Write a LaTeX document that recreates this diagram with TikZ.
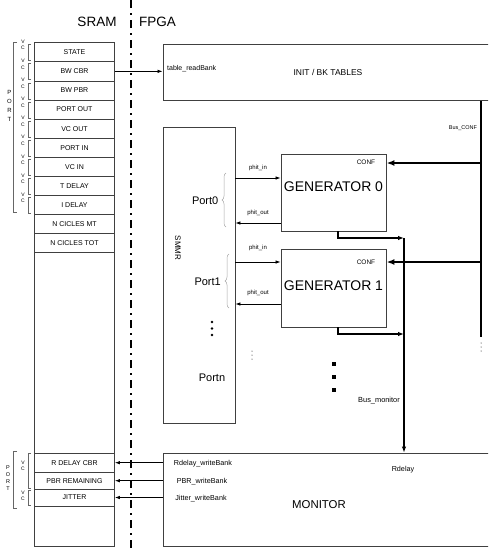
\documentclass[tikz,border=0pt]{standalone}
\usepackage{fontspec}
\setmainfont{Liberation Sans}
\usetikzlibrary{arrows.meta, decorations.pathreplacing}

\begin{document}
\begin{tikzpicture}[x=1pt, y=-1pt,
    box/.style={draw=black!75, line width=0.9pt, inner sep=0pt},
    cell/.style={draw=black!75, line width=0.8pt, minimum width=80pt, inner sep=0pt, font=\fontsize{7}{8}\selectfont},
    lbl/.style={inner sep=0pt, font=\fontsize{#1}{#1}\selectfont},
    lbl/.default=7,
    arr/.style={line width=0.7pt, -{Latex[length=5pt, width=3.5pt]}},
    bus/.style={line width=2pt},
    vcbr/.style={black!60, line width=0.7pt}]

    \clip (0,0) rectangle (488,549);

    % titres
    \node[lbl=13.5] (sram) at (97,22) {SRAM};
    \node[lbl=13.5] (fpga) at (157.5,22) {FPGA};

    % separation SRAM / FPGA
    \draw[line width=1.4pt, dash pattern=on 8pt off 5pt on 1.5pt off 5.5pt] (131,0) -- (131,549);

    % colonne SRAM
    \draw[black!75, line width=0.9pt] (34.5,42.7) rectangle (114.5,546.5);
    \foreach \t [count=\i from 0] in {STATE, BW CBR, BW PBR, PORT OUT, VC OUT, PORT IN, VC IN, T DELAY, I DELAY, N CICLES MT, N CICLES TOT}
        \node[cell, minimum height=19.1pt] (r\i) at (74.5, 52.25+19.1*\i) {\t};
    \foreach \t/\y/\h [count=\i from 0] in {R DELAY CBR/462.7/19.5, PBR REMAINING/480.7/16.5, JITTER/497.5/17}
        \node[cell, minimum height=\h pt] (b\i) at (74.5,\y) {\t};

    % crochets VC / PORT
    \foreach \i in {0,...,8} {
        \pgfmathsetmacro\top{42.7+19.1*\i}
        \draw[vcbr] (31,\top+2) -| (28,\top+18) -- (31,\top+18);
        \node[lbl=5] at (23,\top-1) {V};
        \node[lbl=5] at (23,\top+5.5) {C};
    }
    \draw[vcbr] (17,42.7) -| (13,212) -- (17,212);
    \foreach \l [count=\i from 0] in {P,O,R,T}
        \node[lbl=6] at (9.5, 92+9*\i) {\l};

    \draw[vcbr] (31,453.5) -| (28,488.5) -- (31,488.5);
    \node[lbl=5] at (23,463) {V};
    \node[lbl=5] at (23,468.5) {C};
    \draw[vcbr] (31,490) -| (28,505.5) -- (31,505.5);
    \node[lbl=5] at (23,493) {V};
    \node[lbl=5] at (23,498.5) {C};
    \draw[vcbr] (17,451) -| (13,508) -- (17,508);
    \foreach \l [count=\i from 0] in {P,O,R,T}
        \node[lbl=5.5] at (8, 468+7*\i) {\l};

    % blocs FPGA
    \node[box, minimum width=330pt, minimum height=56.7pt, font=\fontsize{8.5}{9}\selectfont] (init) at (328,72.35) {INIT / BK TABLES};
    \node[lbl] (trb) [anchor=west] at (167,69) {table\_readBank};
    \draw[arr] (r1.east) -- (init.west |- r1.east);

    \node[box, minimum width=72pt, minimum height=296pt] (smmr) at (199,275) {};
    \node[lbl=8, rotate=-90] (smmrt) at (178,248) {SMMR};

    \node[box, minimum width=105pt, minimum height=77pt] (gen0) at (333.5,192.5) {};
    \node[lbl=14] (gen0t) at (333.5,187) {GENERATOR 0};
    \node[box, minimum width=105pt, minimum height=78pt] (gen1) at (333.5,288) {};
    \node[lbl=14] (gen1t) at (333.5,286) {GENERATOR 1};

    \node[box, minimum width=330pt, minimum height=93.7pt] (mon) at (328,499.85) {};
    \node[lbl=11.4] (mont) at (319,505) {MONITOR};

    % ports du SMMR
    \node[lbl=11, anchor=east] (port0) at (218.5,201) {Port0};
    \node[lbl=11, anchor=east] (port1) at (221,282) {Port1};
    \node[lbl=11] (portn) at (212,378) {Portn};
    \draw[black!35, line width=0.5pt, decorate, decoration={brace, amplitude=4pt}] (226,227) -- (226,173);
    \draw[black!35, line width=0.5pt, decorate, decoration={brace, amplitude=4pt}] (229,308) -- (229,254);
    \foreach \y in {322,328.5,335} \fill (212,\y) circle (1.3);
    \foreach \y in {351,355,359} \fill (252,\y) circle (0.5);

    % phit
    \coordinate (p0in) at (gen0.west |- 0,178);
    \coordinate (p0out) at (gen0.west |- 0,223);
    \coordinate (p1in) at (gen1.west |- 0,262);
    \coordinate (p1out) at (gen1.west |- 0,304);
    \draw[arr] (smmr.east |- p0in) -- (p0in);
    \draw[arr] (p0out) -- (smmr.east |- p0out);
    \draw[arr] (smmr.east |- p1in) -- (p1in);
    \draw[arr] (p1out) -- (smmr.east |- p1out);
    \node[lbl=6] (p0inl) at (258,168) {phit\_in};
    \node[lbl=6] (p0outl) at (258,213) {phit\_out};
    \node[lbl=6] (p1inl) at (258,248) {phit\_in};
    \node[lbl=6] (p1outl) at (258,293) {phit\_out};

    % bus CONF
    \coordinate (cbot) at (481,337);
    \draw[bus] (init.south -| cbot) -- (cbot);
    \foreach \y in {343,347,351} \fill (481,\y) circle (0.5);
    \node[lbl=5.5] (busconf) at (463,128) {Bus\_CONF};
    \coordinate (c0) at (481,163);
    \coordinate (c1) at (481,262);
    \draw[bus, -{Latex[length=8pt, width=6pt]}] (c0) -- (gen0.east |- c0);
    \draw[bus, -{Latex[length=8pt, width=6pt]}] (c1) -- (gen1.east |- c1);
    \node[lbl=6.5] (conf0) at (366,162) {CONF};
    \node[lbl=6.5] (conf1) at (366,262) {CONF};

    % bus monitor
    \coordinate (bm0) at (404,238);
    \coordinate (bm1) at (404,334);
    \draw[line width=1.1pt, -{Latex[length=6pt, width=4.5pt]}] (bm0) -- (mon.north -| bm0);
    \draw[line width=1.1pt, -{Latex[length=6pt, width=4.5pt]}] (gen0.south -| 338,0) |- (bm0);
    \draw[line width=1.1pt, -{Latex[length=6pt, width=4.5pt]}] (gen1.south -| 338,0) |- (bm1);
    \foreach \y in {364,377,390} \fill (332,\y-2) rectangle ++(4,4);
    \node[lbl=7.4] (busmon) at (379,401) {Bus\_monitor};
    \node[lbl=7.2] (rdelay) at (403,470) {Rdelay};

    % ecritures vers la SRAM
    \foreach \b in {0,1,2} \draw[arr] (mon.west |- b\b.east) -- (b\b.east);
    \node[lbl=7.2] (rdw) at (203,464) {Rdelay\_writeBank};
    \node[lbl=7.2] (pbrw) at (202,482) {PBR\_writeBank};
    \node[lbl=7.2] (jitw) at (201,499) {Jitter\_writeBank};
\end{tikzpicture}
\end{document}
